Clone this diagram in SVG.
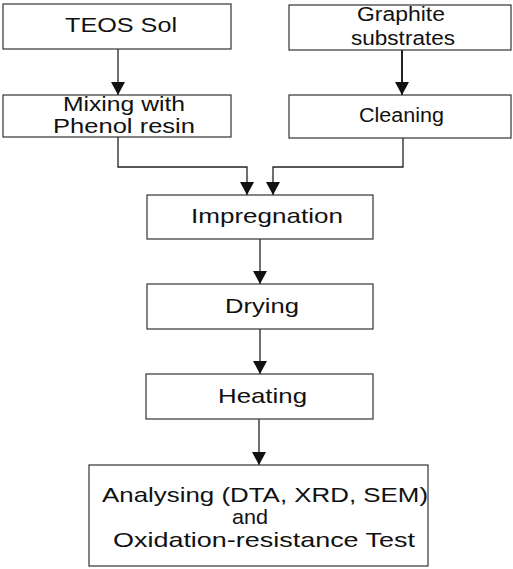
<svg xmlns="http://www.w3.org/2000/svg" width="513" height="569" viewBox="0 0 513 569">
<style>
.box{fill:#fff;stroke:#333;stroke-width:1.2}
.t{font-family:"Liberation Sans",Arial,sans-serif;font-size:20px;fill:#111}
.b{font-size:21px}
.c{fill:none;stroke:#222;stroke-width:1.3;marker-end:url(#ah)}
</style>
<defs>
<marker id="ah" markerUnits="userSpaceOnUse" markerWidth="14" markerHeight="14" viewBox="0 0 13 14" refX="13" refY="7" orient="auto">
<path d="M0,0 L13,7 L0,14 Z" fill="#111"/>
</marker>
</defs>
<rect width="513" height="569" fill="#fff"/>
<g id="connectors">
<path class="c" d="M118,49 V95"/>
<path class="c" d="M402,50 V95" style="stroke-width:2"/>
<path class="c" d="M118,137 V167 H247 V195"/>
<path class="c" d="M403,138 V167 H273 V195"/>
<path class="c" d="M260,239 V284"/>
<path class="c" d="M260,329 V374"/>
<path class="c" d="M259,419 V465"/>
</g>
<g id="teos">
<rect class="box" x="3" y="4" width="228" height="45"/>
<text class="t b" x="65" y="32" textLength="112" lengthAdjust="spacingAndGlyphs">TEOS Sol</text>
</g>
<g id="graphite">
<rect class="box" x="289" y="5" width="222" height="45"/>
<text class="t" x="357" y="21" textLength="88" lengthAdjust="spacingAndGlyphs">Graphite</text>
<text class="t" x="351" y="44.5" textLength="104" lengthAdjust="spacingAndGlyphs">substrates</text>
</g>
<g id="mixing">
<rect class="box" x="3" y="95" width="228" height="42"/>
<text class="t" x="63" y="111" textLength="122" lengthAdjust="spacingAndGlyphs">Mixing with</text>
<text class="t" x="53" y="133" textLength="142" lengthAdjust="spacingAndGlyphs">Phenol resin</text>
</g>
<g id="cleaning">
<rect class="box" x="289" y="95" width="222" height="43"/>
<text class="t" x="359" y="122" textLength="85" lengthAdjust="spacingAndGlyphs">Cleaning</text>
</g>
<g id="impregnation">
<rect class="box" x="147" y="195" width="226" height="44"/>
<text class="t b" x="191" y="223" textLength="152" lengthAdjust="spacingAndGlyphs">Impregnation</text>
</g>
<g id="drying">
<rect class="box" x="147" y="284" width="226" height="45"/>
<text class="t b" x="225" y="313" textLength="74" lengthAdjust="spacingAndGlyphs">Drying</text>
</g>
<g id="heating">
<rect class="box" x="146" y="374" width="227" height="45"/>
<text class="t b" x="218" y="403" textLength="89" lengthAdjust="spacingAndGlyphs">Heating</text>
</g>
<g id="analysing">
<rect class="box" x="89" y="465" width="339" height="101"/>
<text class="t b" x="102" y="502" textLength="326" lengthAdjust="spacingAndGlyphs">Analysing (DTA, XRD, SEM)</text>
<text class="t b" x="232" y="524" textLength="36" lengthAdjust="spacingAndGlyphs">and</text>
<text class="t b" x="113" y="547" textLength="302" lengthAdjust="spacingAndGlyphs">Oxidation-resistance Test</text>
</g>
</svg>
